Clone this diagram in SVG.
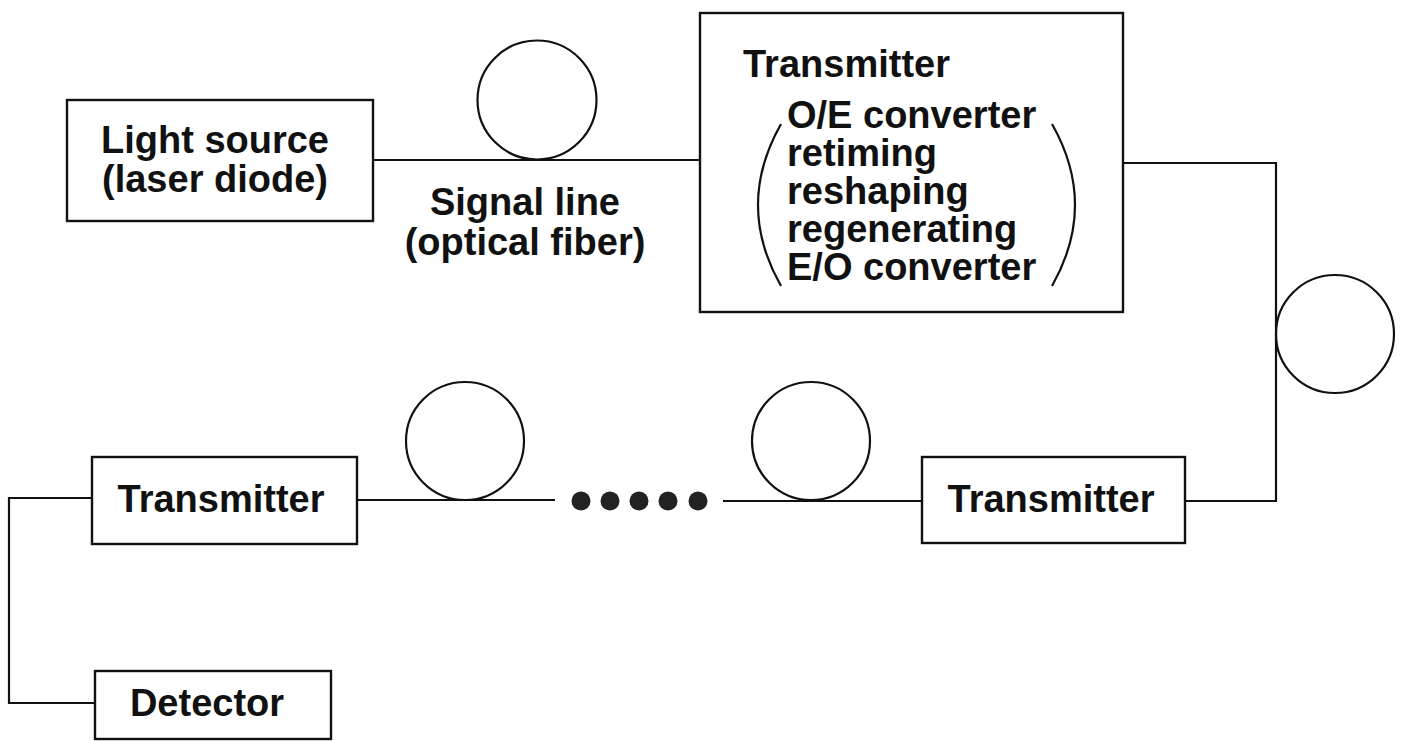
<svg xmlns="http://www.w3.org/2000/svg" width="1407" height="741" viewBox="0 0 1407 741">
<style>
.box{fill:none;stroke:#111;stroke-width:2.4}
.wire{fill:none;stroke:#111;stroke-width:2.2}
.loop{fill:none;stroke:#111;stroke-width:2.2}
.t{font-family:"Liberation Sans",Arial,sans-serif;font-weight:bold;font-size:38px;fill:#111}
.m{text-anchor:middle}
.dot{fill:#222}
</style>
<rect width="1407" height="741" fill="#fff"/>
<g id="connectors">
<line class="wire" x1="373" y1="160" x2="700" y2="160"/>
<circle class="loop" cx="537" cy="100" r="59.5"/>
<polyline class="wire" points="1123,163 1276,163 1276,501 1185,501"/>
<circle class="loop" cx="1335" cy="334" r="59"/>
<line class="wire" x1="922" y1="501" x2="723" y2="501"/>
<circle class="loop" cx="811" cy="441" r="59"/>
<line class="wire" x1="357" y1="500" x2="555" y2="500"/>
<circle class="loop" cx="465" cy="441" r="59"/>
<circle class="dot" cx="581" cy="501" r="9.5"/>
<circle class="dot" cx="610" cy="501" r="9.5"/>
<circle class="dot" cx="639" cy="501" r="9.5"/>
<circle class="dot" cx="668" cy="501" r="9.5"/>
<circle class="dot" cx="698" cy="501" r="9.5"/>
<polyline class="wire" points="92,498 9,498 9,703 95,703"/>
</g>
<g id="signal-label">
<text class="t m" x="525" y="215">Signal line</text>
<text class="t m" x="525" y="255">(optical fiber)</text>
</g>
<g id="light-source">
<rect class="box" x="67" y="100" width="306" height="121"/>
<text class="t m" x="215" y="153">Light source</text>
<text class="t m" x="215" y="192">(laser diode)</text>
</g>
<g id="transmitter-main">
<rect class="box" x="700" y="13" width="423" height="299"/>
<text class="t" x="743" y="77">Transmitter</text>
<text class="t" x="787" y="128">O/E converter</text>
<text class="t" x="787" y="166">retiming</text>
<text class="t" x="787" y="204">reshaping</text>
<text class="t" x="787" y="242">regenerating</text>
<text class="t" x="787" y="280">E/O converter</text>
<path class="wire" d="M781 124 Q735 205 781 286"/>
<path class="wire" d="M1052 124 Q1098 205 1052 286"/>
</g>
<g id="transmitter-right">
<rect class="box" x="922" y="457" width="263" height="86"/>
<text class="t m" x="1051" y="512">Transmitter</text>
</g>
<g id="transmitter-left">
<rect class="box" x="92" y="457" width="265" height="87"/>
<text class="t m" x="221" y="512">Transmitter</text>
</g>
<g id="detector">
<rect class="box" x="95" y="671" width="236" height="68"/>
<text class="t m" x="207" y="716">Detector</text>
</g>
</svg>
